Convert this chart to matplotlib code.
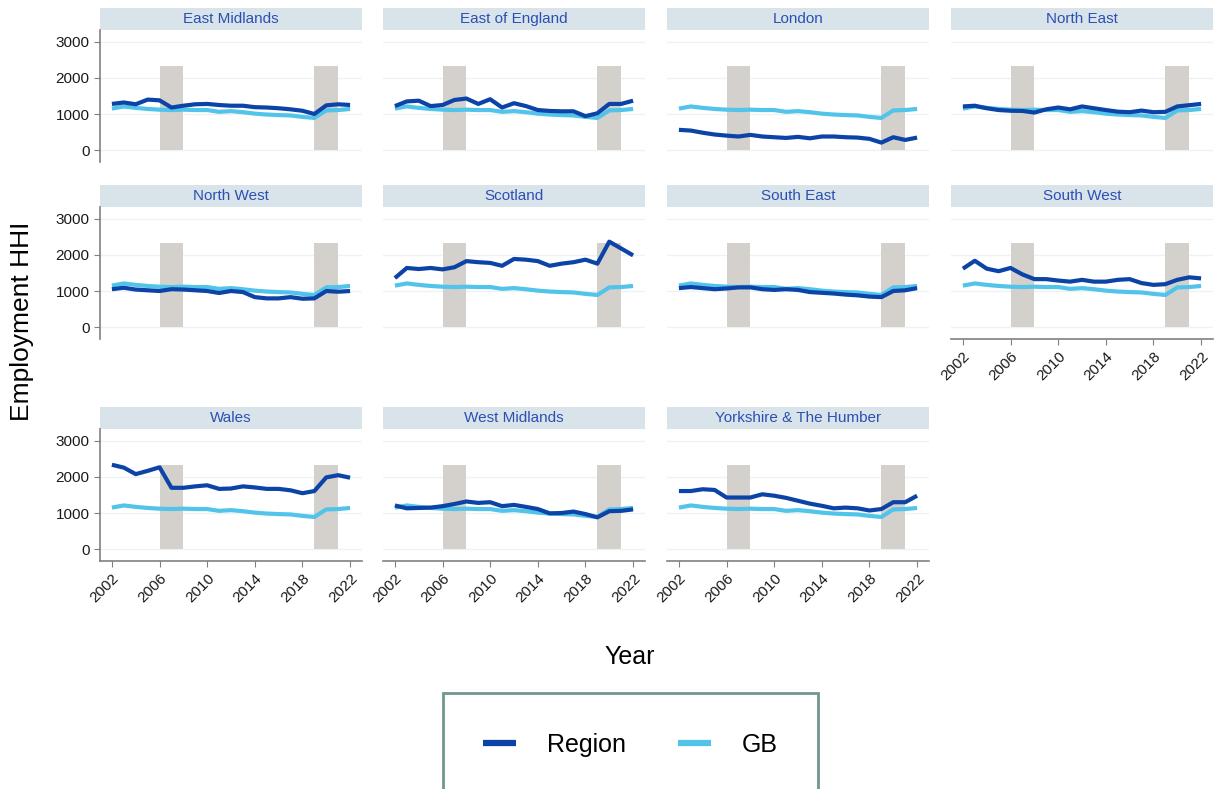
"""Employment HHI by region vs GB, small multiples."""

import matplotlib.pyplot as plt
from matplotlib.lines import Line2D

plt.rcParams["font.family"] = ["Liberation Sans", "DejaVu Sans"]

years = list(range(2002, 2023))

gb = [1150, 1210, 1170, 1140, 1120, 1110, 1120, 1110, 1110, 1060, 1080,
      1050, 1010, 985, 970, 960, 920, 890, 1100, 1110, 1140]

east_midlands = [1280, 1320, 1270, 1400, 1380, 1180, 1230, 1270, 1280, 1250, 1230,
                 1230, 1190, 1180, 1160, 1130, 1090, 1000, 1240, 1270, 1250]
east_of_england = [1220, 1350, 1370, 1220, 1250, 1390, 1430, 1280, 1410, 1180, 1300,
                   1220, 1110, 1085, 1075, 1075, 940, 1020, 1280, 1280, 1370]
london = [560, 540, 480, 430, 400, 375, 420, 375, 355, 335, 365,
          325, 375, 375, 355, 345, 310, 205, 355, 280, 345]
north_east = [1210, 1230, 1160, 1110, 1090, 1085, 1040, 1130, 1180, 1130, 1210,
              1160, 1110, 1065, 1050, 1095, 1050, 1060, 1210, 1245, 1280]
north_west = [1050, 1090, 1040, 1020, 1000, 1050, 1040, 1020, 1000, 945, 1000,
              970, 830, 795, 795, 830, 785, 795, 1000, 980, 1000]
scotland = [1360, 1640, 1610, 1640, 1600, 1660, 1830, 1800, 1780, 1700, 1890,
            1870, 1830, 1700, 1760, 1800, 1870, 1760, 2370, 2180, 1990]
south_east = [1080, 1110, 1080, 1050, 1070, 1100, 1100, 1050, 1030, 1050, 1030,
              970, 950, 930, 900, 880, 845, 830, 1000, 1020, 1080]
south_west = [1620, 1840, 1620, 1550, 1640, 1460, 1330, 1330, 1290, 1260, 1310,
              1260, 1260, 1310, 1330, 1220, 1170, 1190, 1310, 1380, 1350]
wales = [2340, 2260, 2080, 2170, 2270, 1700, 1700, 1740, 1770, 1670, 1680,
         1740, 1710, 1670, 1670, 1630, 1550, 1610, 1990, 2050, 1980]
west_midlands = [1210, 1130, 1140, 1150, 1190, 1250, 1320, 1280, 1300, 1190, 1225,
                 1170, 1110, 990, 1000, 1040, 970, 880, 1050, 1060, 1100]
yorkshire = [1610, 1610, 1660, 1640, 1430, 1430, 1430, 1520, 1480, 1420, 1340,
             1260, 1200, 1130, 1150, 1130, 1070, 1110, 1300, 1300, 1480]

region_names = ["East Midlands", "East of England", "London", "North East",
                "North West", "Scotland", "South East", "South West",
                "Wales", "West Midlands", "Yorkshire & The Humber"]
region_series = [east_midlands, east_of_england, london, north_east,
                 north_west, scotland, south_east, south_west,
                 wales, west_midlands, yorkshire]

recessions = [(2006, 2008), (2019, 2021)]
shade_top = 2330
y_ticks = [0, 1000, 2000, 3000]
x_ticks = [2002, 2006, 2010, 2014, 2018, 2022]

REGION_COLOR = "#0b44a6"
GB_COLOR = "#52c4ea"
SHADE_COLOR = "#d4d0cc"
STRIP_COLOR = "#d9e4ea"
AXIS_COLOR = "#808080"

W, H = 1217, 789
fig = plt.figure(figsize=(W / 100, H / 100), dpi=100)

col_left = [100, 383, 667, 951]
row_top = [30, 207, 429]
panel_w, panel_h, strip_h = 262, 132, 22


def px_box(x, y, w, h):
    return [x / W, 1 - (y + h) / H, w / W, h / H]


for i, (name, values) in enumerate(zip(region_names, region_series)):
    r, c = divmod(i, 4)
    x0, y0 = col_left[c], row_top[r]

    strip = fig.add_axes(px_box(x0, y0 - strip_h, panel_w, strip_h))
    strip.set_facecolor(STRIP_COLOR)
    strip.set_xticks([])
    strip.set_yticks([])
    for s in strip.spines.values():
        s.set_visible(False)
    strip.text(0.5, 0.5, name, ha="center", va="center", fontsize=11,
               color="#2c4fb4", transform=strip.transAxes)

    ax = fig.add_axes(px_box(x0, y0, panel_w, panel_h))
    ax.set_xlim(2001, 2023)
    ax.set_ylim(-333, 3333)
    ax.set_yticks(y_ticks)
    ax.set_xticks(x_ticks)
    ax.grid(axis="y", color="#edf2f4", lw=1)
    ax.set_axisbelow(True)
    for a, b in recessions:
        ax.fill_between([a, b], 0, shade_top, color=SHADE_COLOR, lw=0, zorder=1)
    ax.plot(years, values, color=REGION_COLOR, lw=3.0, zorder=3,
            solid_capstyle="butt")
    ax.plot(years, gb, color=GB_COLOR, lw=3.0, zorder=2, solid_capstyle="butt")

    for s in ax.spines.values():
        s.set_visible(False)
    show_left = c == 0
    show_bottom = r == 2 or i == 7
    ax.spines["left"].set_visible(show_left)
    ax.spines["bottom"].set_visible(show_bottom)
    ax.spines["left"].set_color(AXIS_COLOR)
    ax.spines["bottom"].set_color(AXIS_COLOR)
    ax.spines["left"].set_linewidth(1.2)
    ax.spines["bottom"].set_linewidth(1.2)
    ax.tick_params(axis="y", left=show_left, labelleft=show_left, length=4,
                   color=AXIS_COLOR, labelsize=11, labelcolor="#1a1a1a")
    ax.tick_params(axis="x", bottom=show_bottom, labelbottom=show_bottom,
                   length=4, color=AXIS_COLOR, labelsize=11,
                   labelcolor="#1a1a1a")
    if show_bottom:
        for lab in ax.get_xticklabels():
            lab.set_rotation(45)
            lab.set_ha("right")
            lab.set_rotation_mode("anchor")

fig.text(22 / W, 1 - 321 / H, "Employment HHI", rotation=90, ha="center",
         va="center", fontsize=19)
fig.text(630 / W, 1 - 657 / H, "Year", ha="center", va="center", fontsize=18)

handles = [Line2D([], [], color=REGION_COLOR, lw=4.5, solid_capstyle="butt"),
           Line2D([], [], color=GB_COLOR, lw=4.5, solid_capstyle="butt")]
leg = fig.legend(handles, ["Region", "GB"], loc="upper center",
                 bbox_to_anchor=(630.5 / W, 1 - 693 / H), ncol=2, fontsize=18,
                 frameon=True, fancybox=False, borderpad=1.6,
                 handlelength=1.3, handletextpad=1.25, columnspacing=2.1,
                 borderaxespad=0)
leg.get_frame().set_edgecolor("#4d7c74")
leg.get_frame().set_linewidth(2)

fig.savefig("out.png", dpi=100)
